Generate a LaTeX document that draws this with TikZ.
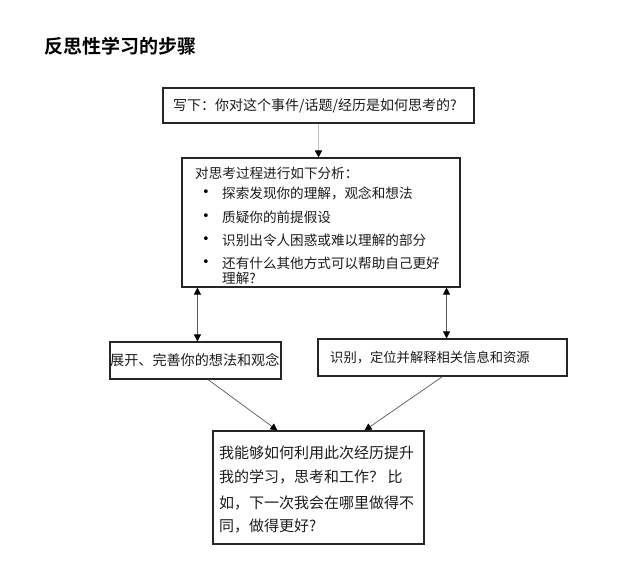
\documentclass[tikz,border=0pt]{standalone}
\usepackage{fontspec}
\setmainfont{Noto Sans CJK SC}
\newfontfamily\cjkbold{Noto Sans CJK SC Bold}
\newfontfamily\symfont{DejaVu Sans}
\usetikzlibrary{arrows.meta}
\definecolor{txt}{HTML}{1C1C1C}
\tikzset{
  box/.style={draw=black!85, line width=1.1pt, fill=white, inner sep=0pt},
  lbl/.style={text=txt, inner sep=0pt, anchor=west},
  bul/.style={text=black, inner sep=0pt},
  conn/.style={draw=black!65, line width=0.7pt},
  tip/.style={-{Triangle[length=7pt,width=7pt,color=black]}},
  dtip/.style={{Triangle[length=7pt,width=7pt,color=black]}-{Triangle[length=7pt,width=7pt,color=black]}},
}
\begin{document}
\begin{tikzpicture}[x=1pt,y=-1pt]
\useasboundingbox (0,0) rectangle (628,562);
\fill[white] (0,0) rectangle (628,562);

% title
\node[lbl, text=black] (title) at (44,46) {\fontsize{19}{22}\cjkbold 反思性学习的步骤};

% boxes
\node[box, minimum width=311pt, minimum height=35pt] (top) at (318.5,105.5) {};
\node[box, minimum width=278pt, minimum height=129pt] (mid) at (321,222.5) {};
\node[box, minimum width=171pt, minimum height=37pt] (lbox) at (195.5,360.5) {};
\node[box, minimum width=249pt, minimum height=37pt] (rbox) at (442.5,357.5) {};
\node[box, minimum width=211pt, minimum height=113pt] (bbox) at (318.5,487.5) {};

% texts
\node[lbl] (t0) at (173,106) {\fontsize{14}{16}\selectfont 写下：你对这个事件/话题/经历是如何思考的?};

\node[lbl] (m0) at (195,173) {\fontsize{13.6}{16}\selectfont 对思考过程进行如下分析：};
\node[bul] (b1) at (206,193) {\fontsize{13}{14}\symfont •};
\node[bul] (b2) at (206,217) {\fontsize{13}{14}\symfont •};
\node[bul] (b3) at (206,240) {\fontsize{13}{14}\symfont •};
\node[bul] (b4) at (206,263) {\fontsize{13}{14}\symfont •};
\node[lbl] (m1) at (222,193) {\fontsize{13.6}{16}\selectfont 探索发现你的理解，观念和想法};
\node[lbl] (m2) at (222,217) {\fontsize{13.6}{16}\selectfont 质疑你的前提假设};
\node[lbl] (m3) at (222,240) {\fontsize{13.6}{16}\selectfont 识别出令人困惑或难以理解的部分};
\node[lbl] (m4) at (222,263) {\fontsize{13.6}{16}\selectfont 还有什么其他方式可以帮助自己更好};
\node[lbl] (m5) at (222,278) {\fontsize{13.6}{16}\selectfont 理解?};

\node[lbl] (l0) at (110,360) {\fontsize{14.1}{16}\selectfont 展开、完善你的想法和观念};
\node[lbl] (r0) at (330,358) {\fontsize{13.3}{16}\selectfont 识别，定位并解释相关信息和资源};

\node[lbl] (q1) at (219,453) {\fontsize{15}{17}\selectfont 我能够如何利用此次经历提升};
\node[lbl] (q2) at (219,477) {\fontsize{15}{17}\selectfont 我的学习，思考和工作？ 比};
\node[lbl] (q3) at (219,503) {\fontsize{15}{17}\selectfont 如，下一次我会在哪里做得不};
\node[lbl] (q4) at (219,526) {\fontsize{15}{17}\selectfont 同，做得更好?};

% connectors
\draw[conn, draw=black!25, tip] (top.south) -- (top.south |- mid.north);
\draw[conn, dtip] ([xshift=16pt]mid.south west) -- ([xshift=16pt]mid.south west |- lbox.north);
\draw[conn, dtip] ([xshift=-14pt]mid.south east) -- ([xshift=-14pt]mid.south east |- rbox.north);
\draw[conn, tip] ([xshift=12.5pt]lbox.south) -- ([xshift=65pt]bbox.north west);
\draw[conn, tip] (rbox.south) -- ([xshift=-60pt]bbox.north east);
\end{tikzpicture}
\end{document}
